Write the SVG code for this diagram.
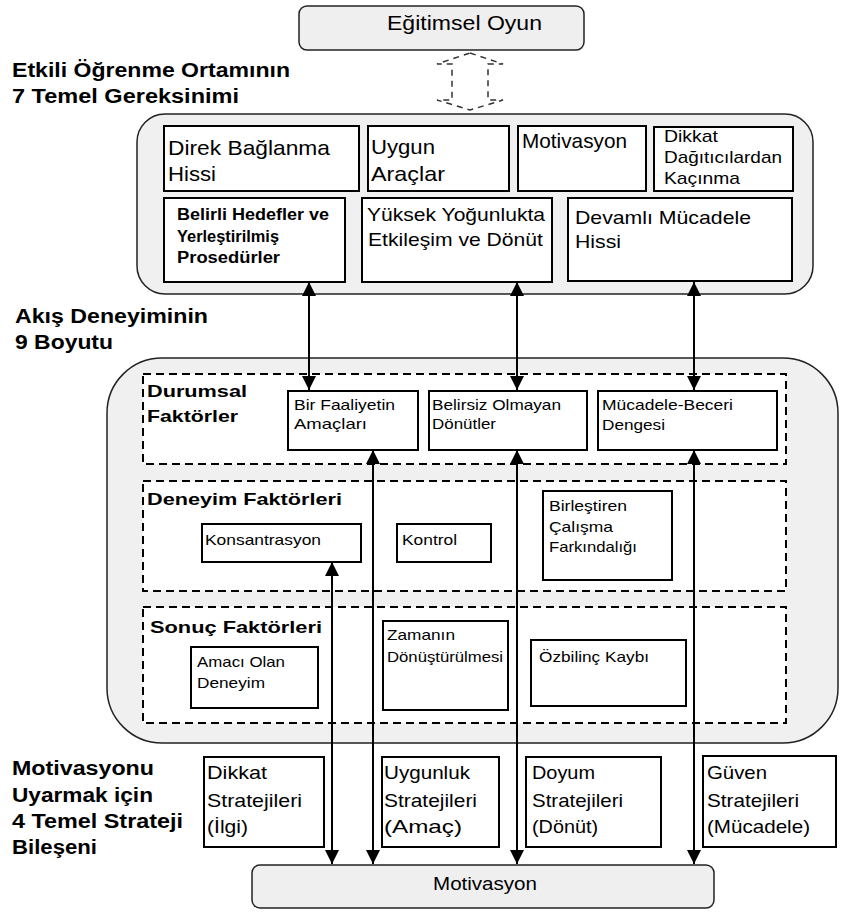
<svg xmlns="http://www.w3.org/2000/svg" width="852" height="917" viewBox="0 0 852 917">
<defs>
<style>
text{font-family:"Liberation Sans",Arial,sans-serif;fill:#000}
.lbl{font-weight:bold;font-size:19.5px}
.sec{font-weight:bold;font-size:17px}
.big{font-size:21px}
.med{font-size:19px}
.sm{font-size:15px}
.st{font-size:18.5px}
.box{fill:#fff;stroke:#000;stroke-width:2}
.cont{fill:#f0f0f0;stroke:#222;stroke-width:1.5}
.term{fill:#efefef;stroke:#222;stroke-width:1.5}
.dsec{fill:#fff;stroke:#000;stroke-width:2;stroke-dasharray:8 5}
.conn{stroke:#000;stroke-width:2;fill:none}
</style>
<marker id="ah" markerUnits="userSpaceOnUse" markerWidth="14" markerHeight="14" refX="14" refY="7" orient="auto-start-reverse" viewBox="0 0 14 14">
<path d="M0,0 L14,7 L0,14 z" fill="#000"/>
</marker>
</defs>
<rect width="852" height="917" fill="#fff"/>

<g id="labels">
<text class="lbl" x="12" y="77" textLength="278" lengthAdjust="spacingAndGlyphs">Etkili Öğrenme Ortamının</text>
<text class="lbl" x="12" y="103" textLength="227" lengthAdjust="spacingAndGlyphs">7 Temel Gereksinimi</text>
<text class="lbl" x="15" y="323" textLength="193" lengthAdjust="spacingAndGlyphs">Akış Deneyiminin</text>
<text class="lbl" x="15" y="349" textLength="98" lengthAdjust="spacingAndGlyphs">9 Boyutu</text>
<text class="lbl" x="12" y="775" textLength="142" lengthAdjust="spacingAndGlyphs">Motivasyonu</text>
<text class="lbl" x="12" y="802" textLength="141" lengthAdjust="spacingAndGlyphs">Uyarmak için</text>
<text class="lbl" x="12" y="828" textLength="171" lengthAdjust="spacingAndGlyphs">4 Temel Strateji</text>
<text class="lbl" x="12" y="854" textLength="85" lengthAdjust="spacingAndGlyphs">Bileşeni</text>
</g>

<g id="egitimsel-oyun">
<rect class="term" x="299" y="6" width="285" height="44" rx="8"/>
<text class="big" x="387" y="30" font-size="20.5" textLength="155" lengthAdjust="spacingAndGlyphs">Eğitimsel Oyun</text>
</g>

<g id="gereksinimler">
<rect class="cont" x="137" y="114" width="676" height="180" rx="28"/>
</g>
<g id="direk-baglanma">
<rect class="box" x="164" y="126" width="195" height="65"/>
<text class="big" x="168" y="155" textLength="162" lengthAdjust="spacingAndGlyphs">Direk Bağlanma</text>
<text class="big" x="168" y="181" textLength="48" lengthAdjust="spacingAndGlyphs">Hissi</text>
</g>
<g id="uygun-araclar">
<rect class="box" x="368" y="126" width="141" height="65"/>
<text class="big" x="371" y="154" textLength="64" lengthAdjust="spacingAndGlyphs">Uygun</text>
<text class="big" x="371" y="181" textLength="74" lengthAdjust="spacingAndGlyphs">Araçlar</text>
</g>
<g id="motivasyon-ihtiyac">
<rect class="box" x="518" y="126" width="128" height="65"/>
<text class="big" x="522" y="148" textLength="105" lengthAdjust="spacingAndGlyphs">Motivasyon</text>
</g>
<g id="dikkat-dagiticilar">
<rect class="box" x="654" y="127" width="139" height="64"/>
<text x="664" y="142" font-size="17" textLength="54" lengthAdjust="spacingAndGlyphs">Dikkat</text>
<text x="664" y="163" font-size="17" textLength="118" lengthAdjust="spacingAndGlyphs">Dağıtıcılardan</text>
<text x="664" y="184" font-size="17" textLength="76" lengthAdjust="spacingAndGlyphs">Kaçınma</text>
</g>
<g id="belirli-hedefler">
<rect class="box" x="164" y="198" width="181" height="84"/>
<text x="177" y="220" font-size="16" font-weight="bold" textLength="152" lengthAdjust="spacingAndGlyphs">Belirli Hedefler ve</text>
<text x="177" y="242" font-size="16" font-weight="bold" textLength="102" lengthAdjust="spacingAndGlyphs">Yerleştirilmiş</text>
<text x="177" y="263" font-size="16" font-weight="bold" textLength="103" lengthAdjust="spacingAndGlyphs">Prosedürler</text>
</g>
<g id="yuksek-yogunluk">
<rect class="box" x="362" y="198" width="190" height="84"/>
<text class="med" x="367" y="221" textLength="178" lengthAdjust="spacingAndGlyphs">Yüksek Yoğunlukta</text>
<text class="med" x="368" y="246" textLength="175" lengthAdjust="spacingAndGlyphs">Etkileşim ve Dönüt</text>
</g>
<g id="devamli-mucadele">
<rect class="box" x="568" y="198" width="224" height="83"/>
<text class="med" x="575" y="224" textLength="176" lengthAdjust="spacingAndGlyphs">Devamlı Mücadele</text>
<text class="med" x="575" y="248" textLength="46" lengthAdjust="spacingAndGlyphs">Hissi</text>
</g>

<g id="akis-boyutlari">
<rect class="cont" x="107" y="358" width="731" height="385" rx="55"/>
</g>
<g id="durumsal-faktorler">
<rect class="dsec" x="143" y="374" width="643" height="90"/>
<text class="sec" x="147" y="397" textLength="100" lengthAdjust="spacingAndGlyphs">Durumsal</text>
<text class="sec" x="147" y="422" textLength="91" lengthAdjust="spacingAndGlyphs">Faktörler</text>
</g>
<g id="deneyim-faktorleri">
<rect class="dsec" x="143" y="481" width="643" height="110"/>
<text class="sec" x="147" y="505" textLength="195" lengthAdjust="spacingAndGlyphs">Deneyim Faktörleri</text>
</g>
<g id="sonuc-faktorleri">
<rect class="dsec" x="143" y="607" width="643" height="116"/>
<text class="sec" x="150" y="633" textLength="172" lengthAdjust="spacingAndGlyphs">Sonuç Faktörleri</text>
</g>
<g id="bir-faaliyetin-amaclari">
<rect class="box" x="288" y="391" width="130" height="59"/>
<text class="sm" x="294" y="410" textLength="101" lengthAdjust="spacingAndGlyphs">Bir Faaliyetin</text>
<text class="sm" x="294" y="429" textLength="73" lengthAdjust="spacingAndGlyphs">Amaçları</text>
</g>
<g id="belirsiz-olmayan-donutler">
<rect class="box" x="429" y="391" width="158" height="59"/>
<text class="sm" x="432" y="410" textLength="129" lengthAdjust="spacingAndGlyphs">Belirsiz Olmayan</text>
<text class="sm" x="432" y="429" textLength="64" lengthAdjust="spacingAndGlyphs">Dönütler</text>
</g>
<g id="mucadele-beceri">
<rect class="box" x="598" y="391" width="179" height="59"/>
<text class="sm" x="602" y="410" textLength="131" lengthAdjust="spacingAndGlyphs">Mücadele-Beceri</text>
<text class="sm" x="602" y="430" textLength="63" lengthAdjust="spacingAndGlyphs">Dengesi</text>
</g>
<g id="konsantrasyon">
<rect class="box" x="202" y="524" width="159" height="38"/>
<text class="sm" x="205" y="545" textLength="116" lengthAdjust="spacingAndGlyphs">Konsantrasyon</text>
</g>
<g id="kontrol">
<rect class="box" x="397" y="524" width="94" height="38"/>
<text class="sm" x="402" y="545" textLength="55" lengthAdjust="spacingAndGlyphs">Kontrol</text>
</g>
<g id="birlestiren-calisma">
<rect class="box" x="543" y="491" width="129" height="89"/>
<text class="sm" x="549" y="511" textLength="78" lengthAdjust="spacingAndGlyphs">Birleştiren</text>
<text class="sm" x="549" y="532" textLength="64" lengthAdjust="spacingAndGlyphs">Çalışma</text>
<text class="sm" x="549" y="552" textLength="88" lengthAdjust="spacingAndGlyphs">Farkındalığı</text>
</g>
<g id="amaci-olan-deneyim">
<rect class="box" x="191" y="647" width="127" height="61"/>
<text class="sm" x="197" y="667" textLength="88" lengthAdjust="spacingAndGlyphs">Amacı Olan</text>
<text class="sm" x="197" y="688" textLength="68" lengthAdjust="spacingAndGlyphs">Deneyim</text>
</g>
<g id="zamanin-donusturulmesi">
<rect class="box" x="383" y="621" width="125" height="89"/>
<text class="sm" x="387" y="640" textLength="68" lengthAdjust="spacingAndGlyphs">Zamanın</text>
<text class="sm" x="387" y="662" textLength="116" lengthAdjust="spacingAndGlyphs">Dönüştürülmesi</text>
</g>
<g id="ozbilinc-kaybi">
<rect class="box" x="531" y="640" width="155" height="66"/>
<text class="sm" x="539" y="662" textLength="110" lengthAdjust="spacingAndGlyphs">Özbilinç Kaybı</text>
</g>

<g id="dikkat-stratejileri">
<rect class="box" x="204" y="757" width="120" height="90"/>
<text class="st" x="207" y="779" textLength="60" lengthAdjust="spacingAndGlyphs">Dikkat</text>
<text class="st" x="207" y="807" textLength="95" lengthAdjust="spacingAndGlyphs">Stratejileri</text>
<text class="st" x="207" y="833" textLength="41" lengthAdjust="spacingAndGlyphs">(İlgi)</text>
</g>
<g id="uygunluk-stratejileri">
<rect class="box" x="382" y="757" width="117" height="90"/>
<text class="st" x="384" y="779" textLength="86" lengthAdjust="spacingAndGlyphs">Uygunluk</text>
<text class="st" x="384" y="807" textLength="93" lengthAdjust="spacingAndGlyphs">Stratejileri</text>
<text class="st" x="384" y="833" textLength="78" lengthAdjust="spacingAndGlyphs">(Amaç)</text>
</g>
<g id="doyum-stratejileri">
<rect class="box" x="526" y="757" width="135" height="90"/>
<text class="st" x="532" y="779" textLength="63" lengthAdjust="spacingAndGlyphs">Doyum</text>
<text class="st" x="532" y="807" textLength="91" lengthAdjust="spacingAndGlyphs">Stratejileri</text>
<text class="st" x="532" y="833" textLength="66" lengthAdjust="spacingAndGlyphs">(Dönüt)</text>
</g>
<g id="guven-stratejileri">
<rect class="box" x="703" y="756" width="133" height="91"/>
<text class="st" x="707" y="779" textLength="60" lengthAdjust="spacingAndGlyphs">Güven</text>
<text class="st" x="707" y="807" textLength="92" lengthAdjust="spacingAndGlyphs">Stratejileri</text>
<text class="st" x="707" y="833" textLength="103" lengthAdjust="spacingAndGlyphs">(Mücadele)</text>
</g>

<g id="motivasyon">
<rect class="term" x="252" y="865" width="462" height="43" rx="8"/>
<text x="433" y="890" font-size="17.5" textLength="104" lengthAdjust="spacingAndGlyphs">Motivasyon</text>
</g>

<g id="connectors">
<path d="M470,53 L503,64 L488,64 L488,100 L503,100 L470,110 L437,100 L452,100 L452,64 L437,64 Z" fill="none" stroke="#333" stroke-width="1.5" stroke-dasharray="6 5"/>
<line class="conn" x1="309" y1="282" x2="309" y2="390" marker-start="url(#ah)" marker-end="url(#ah)"/>
<line class="conn" x1="517" y1="282" x2="517" y2="390" marker-start="url(#ah)" marker-end="url(#ah)"/>
<line class="conn" x1="694" y1="282" x2="694" y2="390" marker-start="url(#ah)" marker-end="url(#ah)"/>
<line class="conn" x1="373" y1="450" x2="373" y2="864" marker-start="url(#ah)" marker-end="url(#ah)"/>
<line class="conn" x1="517" y1="450" x2="517" y2="864" marker-start="url(#ah)" marker-end="url(#ah)"/>
<line class="conn" x1="694" y1="450" x2="694" y2="864" marker-start="url(#ah)" marker-end="url(#ah)"/>
<line class="conn" x1="332" y1="562" x2="332" y2="864" marker-start="url(#ah)" marker-end="url(#ah)"/>
</g>
</svg>
